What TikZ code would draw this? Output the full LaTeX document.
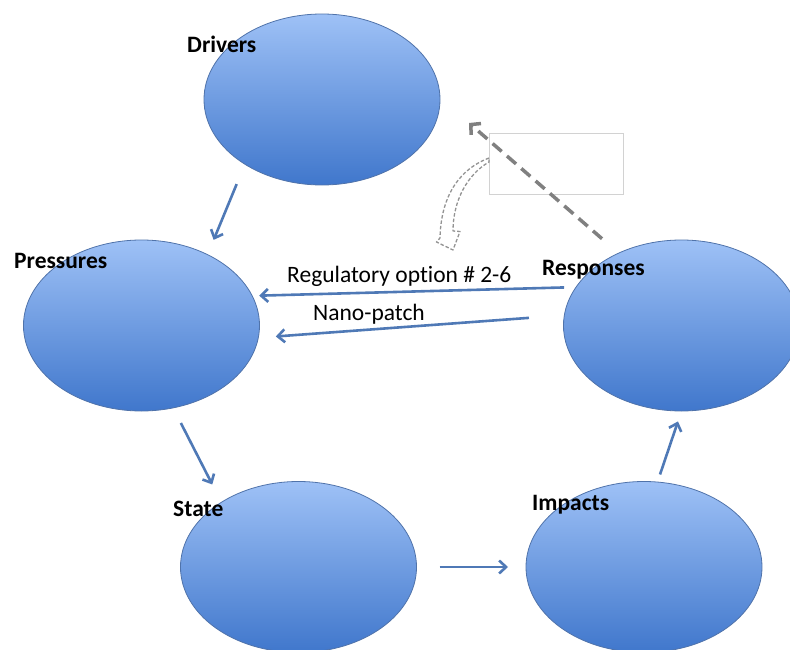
\documentclass[tikz,border=0pt]{standalone}
\usepackage{fontspec}
\setmainfont{Carlito}[Ligatures=NoCommon]
\usetikzlibrary{shapes.geometric,arrows.meta}
\definecolor{dpsirblue}{RGB}{79,121,182}
\definecolor{ovaltop}{RGB}{158,193,246}
\definecolor{ovalmid}{RGB}{128,170,236}
\definecolor{ovalbottom}{RGB}{64,119,204}
\definecolor{ovalline}{RGB}{80,115,170}
\definecolor{hintgray}{RGB}{128,128,128}
\definecolor{boxgray}{RGB}{210,210,210}

\begin{document}
\begin{tikzpicture}[x=1pt,y=-1pt,
  oval/.style={ellipse,draw=ovalline,line width=0.8pt,top color=ovaltop,middle color=ovalmid,bottom color=ovalbottom,
    minimum width=236pt,minimum height=171pt,inner sep=0pt,outer sep=0pt},
  tag/.style={anchor=base west,inner sep=0pt,font=\fontsize{23.5}{28}\selectfont\bfseries},
  note/.style={anchor=base west,inner sep=0pt,font=\fontsize{23.5}{28}\selectfont},
  link/.style={dpsirblue,line width=2.6pt,-{Straight Barb[length=7pt,width=13pt]}}]
  \useasboundingbox (0,0) rectangle (790,650);

  % DPSIR ovals
  \node[oval] (drivers) at (322,99.5) {};
  \node[oval] (pressures) at (141.5,325.5) {};
  \node[oval] (responses) at (681.5,325.5) {};
  \node[oval] (state) at (298.5,567) {};
  \node[oval] (impacts) at (644,567) {};

  % Labels
  \node[tag] (driverstag) at (187,53) {Drivers};
  \node[tag] (pressurestag) at (14,268) {Pressures};
  \node[tag] (responsestag) at (542,275) {Responses};
  \node[tag] (statetag) at (173,516) {State};
  \node[tag] (impactstag) at (532,510) {Impacts};

  % Causal chain
  \draw[link,shorten <=21.5pt,shorten >=16pt] (drivers.220) -- (pressures.47.7);
  \draw[link,shorten <=17pt,shorten >=20pt] (pressures.291.6) -- (state.140.6);
  \draw[link,shorten <=23pt,shorten >=18pt] (state.east) -- (impacts.west);
  \draw[link,shorten <=8pt,shorten >=11pt] (impacts.81.7) -- (responses.270.4);

  % Responses back to pressures
  \draw[link,shorten <=12pt,shorten >=7pt] (responses.160.2) -- (pressures.15);
  \draw[link,shorten <=35.5pt,shorten >=17.6pt] (responses.175) -- (pressures.354.8);
  \node[note] (regtext) at (287,282) {Regulatory option \# 2-6};
  \node[note] (nanotext) at (313,320) {Nano-patch};

  % Empty text box and dashed hints
  \node[draw=boxgray,line width=0.8pt,minimum width=134pt,minimum height=61pt,inner sep=0pt] (textbox) at (556.3,163.8) {};
  \coordinate (hint) at (469,123);
  \draw[hintgray,line width=3.5pt,dash pattern=on 12pt off 7pt,
    -{Straight Barb[length=7pt,width=15pt]},shorten <=22pt] (responses.131) -- (hint);
  \draw[hintgray!85,line width=1.3pt,dash pattern=on 3.5pt off 2pt,line join=round]
    (489,158) .. controls (462,168) and (441,193) .. (440,238) -- (436.5,242) -- (453,250)
    -- (460,231.5) -- (453,231) .. controls (453,200) and (468,174) .. (489,162) -- cycle;
\end{tikzpicture}
\end{document}
